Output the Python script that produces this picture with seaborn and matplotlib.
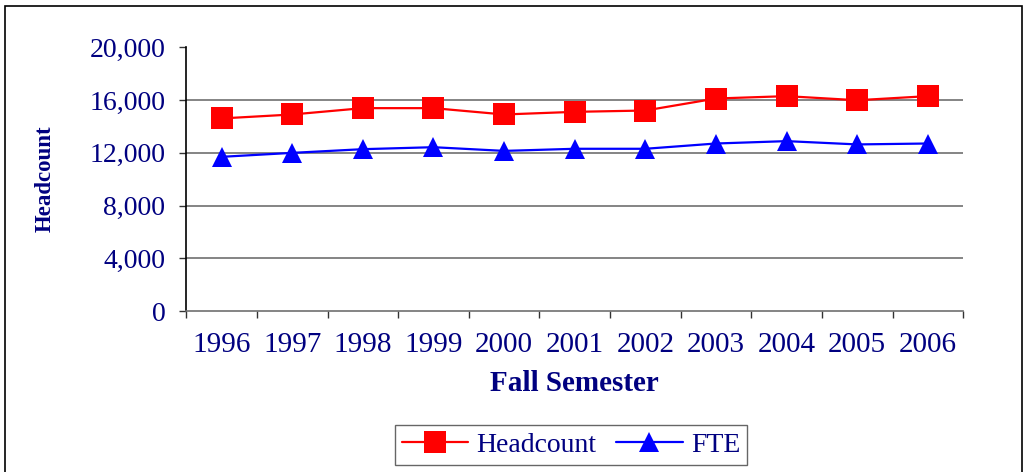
#Headcount and FTE by fall semester
import numpy as np
import pandas as pd
import matplotlib
matplotlib.use('Agg')
import matplotlib.pyplot as plt
import seaborn as sns
from matplotlib.patches import Rectangle
from matplotlib.ticker import FuncFormatter, FixedLocator

years = ['1996', '1997', '1998', '1999', '2000', '2001', '2002', '2003', '2004', '2005', '2006']
headcount = [14600, 14900, 15380, 15380, 14900, 15100, 15200, 16110, 16290, 15980, 16290]
fte = [11690, 11990, 12270, 12420, 12140, 12300, 12300, 12700, 12880, 12630, 12700]

df = pd.DataFrame({'year': years * 2,
                   'value': headcount + fte,
                   'series': ['Headcount'] * len(years) + ['FTE'] * len(years)})

sns.set_style('white')
plt.rcParams['font.family'] = ['Liberation Serif', 'DejaVu Serif']
navy = '#000080'

fig = plt.figure(figsize=(10.29, 4.72), dpi=100)
ax = fig.add_axes([0.181, 0.341, 0.755, 0.559])

sns.lineplot(data=df, x='year', y='value', hue='series', style='series',
             palette={'Headcount': '#ff0000', 'FTE': '#0000ff'},
             markers={'Headcount': 's', 'FTE': '^'}, dashes=False,
             markersize=15, markeredgewidth=0, linewidth=1.6, ax=ax, legend=False)
# the triangles are smaller
for ln, ms in zip(ax.lines, [16, 14]):
    ln.set_markersize(ms)

ax.set_ylim(0, 20000)
ax.set_xlim(-0.5, len(years) - 0.5)
ax.set_yticks(np.arange(0, 20001, 4000))
ax.yaxis.set_major_formatter(FuncFormatter(lambda v, p: f'{int(v):,}'))
for y in np.arange(4000, 20000, 4000):
    ax.axhline(y, color='#707070', lw=1.2, zorder=0)

ax.tick_params(axis='y', labelsize=20, labelcolor=navy, length=5, width=1, color='#333333',
               left=True, pad=10)
ax.tick_params(axis='x', which='major', labelsize=21, labelcolor=navy, length=0, pad=15)
ax.xaxis.set_minor_locator(FixedLocator(np.arange(-0.5, len(years), 1)))
ax.tick_params(axis='x', which='minor', length=5, width=1, color='#333333', bottom=True)

for s in ['top', 'right']:
    ax.spines[s].set_visible(False)
ax.spines['left'].set_color('black')
ax.spines['left'].set_linewidth(1.2)
ax.spines['bottom'].set_color('#707070')
ax.spines['bottom'].set_linewidth(1.2)

ax.set_xlabel('Fall Semester', fontsize=21, fontweight='bold', color=navy, labelpad=9)
ax.set_ylabel('Headcount', fontsize=16.5, fontweight='bold', color=navy, labelpad=24)

handles = ax.lines[:2]
leg = fig.legend(handles, ['Headcount', 'FTE'], loc='center', bbox_to_anchor=(0.555, 0.057),
                 ncol=2, frameon=True, fancybox=False, fontsize=20, handlelength=2.4,
                 columnspacing=0.7, handletextpad=0.3, borderpad=0.25)
leg.get_frame().set_edgecolor('#404040')
leg.get_frame().set_linewidth(1.0)
for t in leg.get_texts():
    t.set_color(navy)

fig.patches.append(Rectangle((0.005, -0.01), 0.988, 0.997, transform=fig.transFigure,
                             fill=False, edgecolor='black', lw=1.2))

fig.savefig('out.png', dpi=100)
